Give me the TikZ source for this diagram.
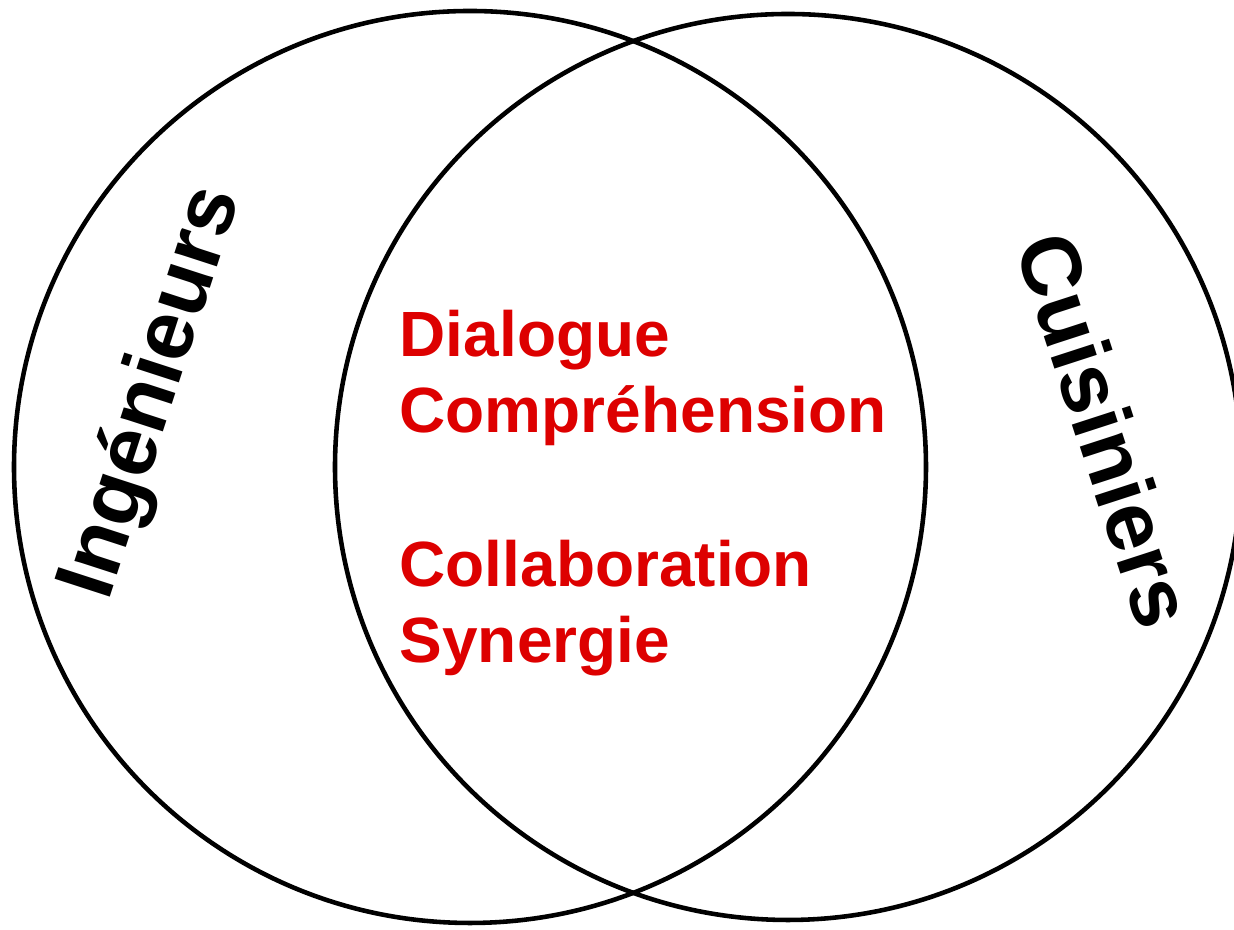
\documentclass[tikz,border=0pt]{standalone}
\usepackage{fontspec}
\setmainfont{Liberation Sans}
\usepackage{tikz}
\usetikzlibrary{positioning}

\definecolor{vennred}{RGB}{221,0,0}

\tikzset{
	set/.style={draw=black, line width=1.3pt},
	setlabel/.style={font=\fontsize{24}{28}\selectfont\bfseries, inner sep=0pt},
	shared/.style={font=\fontsize{18.2}{21.6}\selectfont\bfseries, text=vennred, inner sep=0pt, anchor=base west}
}

\begin{document}
\begin{tikzpicture}
			
			\useasboundingbox (0, 0) rectangle (12.34, 9.30);
			
			% 1. THE TWO SETS
			\draw[set] (4.70, 4.63) circle (4.56);
			\draw[set] (7.88, 4.63) circle (4.53);
			
			% Set names, tilted along the rims
			\node[setlabel, rotate=72] (inge) at (1.53, 5.37) {Ingénieurs};
			\node[setlabel, rotate=-72] (cuis) at (11.06, 5.00) {Cuisiniers};
			
			% 2. THE INTERSECTION
			\node[shared] (dialogue) at (3.99, 5.73) {Dialogue};
			\node[shared] (compr) at (3.99, 4.97) {Compréhension};
			\node[shared] (collab) at (3.99, 3.43) {Collaboration};
			\node[shared] (synergie) at (3.99, 2.67) {Synergie};
			
		\end{tikzpicture}
\end{document}
